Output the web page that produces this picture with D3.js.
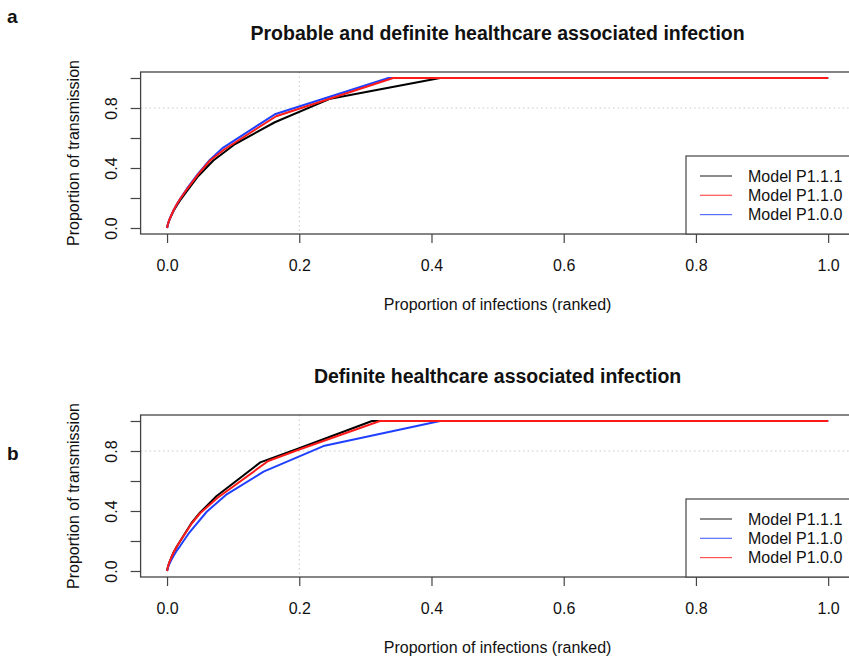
<!DOCTYPE html>
<html>
<head>
<meta charset="utf-8">
<script src="https://cdn.jsdelivr.net/npm/d3@7/dist/d3.min.js"></script>
<style>
  html, body { margin: 0; padding: 0; background: #fff; }
  svg { display: block; font-family: "Liberation Sans", Arial, sans-serif; }
</style>
</head>
<body>
<svg id="chart" width="849" height="660"></svg>
<script>
// Axis ticks
const xTicks = [0, 0.2, 0.4, 0.6, 0.8, 1.0];
const yTicks = [0, 0.2, 0.4, 0.6, 0.8, 1.0];
const yTickLabels = ["0.0", "", "0.4", "", "0.8", ""];
const xTickLabels = ["0.0", "0.2", "0.4", "0.6", "0.8", "1.0"];

// Panel a: probable and definite healthcare associated infection
const aP111 = [[0,0],[0.001,0.02],[0.003,0.048],[0.006,0.078],[0.01,0.115],[0.015,0.152],[0.02,0.185],[0.03,0.245],[0.047,0.345],[0.07,0.45],[0.103,0.56],[0.163,0.705],[0.247,0.862],[0.413,1.0],[1,1]];
const aP110 = [[0,0],[0.001,0.02],[0.003,0.05],[0.006,0.08],[0.01,0.12],[0.015,0.16],[0.02,0.195],[0.03,0.258],[0.047,0.358],[0.065,0.45],[0.087,0.525],[0.165,0.745],[0.342,1.0],[1,1]];
const aP100 = [[0,0],[0.001,0.02],[0.003,0.05],[0.006,0.08],[0.01,0.12],[0.015,0.16],[0.02,0.197],[0.03,0.262],[0.047,0.363],[0.065,0.455],[0.085,0.536],[0.163,0.758],[0.335,1.0],[1,1]];

// Panel b: definite healthcare associated infection
const bP111 = [[0,0],[0.001,0.022],[0.003,0.052],[0.006,0.085],[0.01,0.125],[0.015,0.165],[0.02,0.2],[0.037,0.32],[0.05,0.39],[0.075,0.5],[0.141,0.724],[0.2,0.818],[0.31,1.0],[1,1]];
const bP110 = [[0,0],[0.001,0.018],[0.003,0.042],[0.006,0.07],[0.01,0.102],[0.015,0.138],[0.02,0.168],[0.034,0.258],[0.06,0.395],[0.089,0.507],[0.146,0.662],[0.2365,0.833],[0.413,1.0],[1,1]];
const bP100 = [[0,0],[0.001,0.022],[0.003,0.052],[0.006,0.085],[0.01,0.125],[0.015,0.165],[0.02,0.2],[0.037,0.315],[0.05,0.385],[0.077,0.49],[0.153,0.733],[0.2,0.81],[0.322,1.0],[1,1]];

const seriesNames = ["Model P1.1.1", "Model P1.1.0", "Model P1.0.0"];
const BLACK = "#000000", RED = "#ff1a1a", BLUE = "#2040ff";

const panels = [
  { tag: "a", title: "Probable and definite healthcare associated infection",
    top: 72, bottom: 234, tagY: 16,
    series: [ {d: aP111, c: BLACK}, {d: aP100, c: BLUE}, {d: aP110, c: RED} ],
    legend: [ {n: seriesNames[0], c: BLACK}, {n: seriesNames[1], c: RED}, {n: seriesNames[2], c: BLUE} ] },
  { tag: "b", title: "Definite healthcare associated infection",
    top: 415, bottom: 577, tagY: 453,
    series: [ {d: bP111, c: BLACK}, {d: bP110, c: BLUE}, {d: bP100, c: RED} ],
    legend: [ {n: seriesNames[0], c: BLACK}, {n: seriesNames[1], c: BLUE}, {n: seriesNames[2], c: RED} ] }
];

const svg = d3.select("#chart");
const left = 140.6, right = 854.6;
const frameColor = "#444";

panels.forEach(p => {
  const x = d3.scaleLinear().domain([-0.04, 1.04]).range([left, right]);
  const y = d3.scaleLinear().domain([-0.04, 1.04]).range([p.bottom, p.top]);
  const g = svg.append("g");

  // reference grid at 0.2 / 0.8
  g.append("line").attr("x1", x(0.2)).attr("x2", x(0.2)).attr("y1", p.top).attr("y2", p.bottom)
    .attr("stroke", "#c8c8c8").attr("stroke-width", 1).attr("stroke-dasharray", "1.5,3");
  g.append("line").attr("x1", left).attr("x2", right).attr("y1", y(0.8)).attr("y2", y(0.8))
    .attr("stroke", "#c8c8c8").attr("stroke-width", 1).attr("stroke-dasharray", "1.5,3");

  // curves
  const line = d3.line().x(d => x(d[0])).y(d => y(d[1]));
  p.series.forEach(s => {
    g.append("path").attr("d", line(s.d)).attr("fill", "none")
      .attr("stroke", s.c).attr("stroke-width", 2).attr("stroke-linejoin", "round");
  });

  // plot frame
  g.append("rect").attr("x", left).attr("y", p.top).attr("width", right - left).attr("height", p.bottom - p.top)
    .attr("fill", "none").attr("stroke", frameColor).attr("stroke-width", 1.3);

  // x axis
  const xa = g.append("g").attr("transform", `translate(0,${p.bottom})`)
    .call(d3.axisBottom(x).tickValues(xTicks).tickSize(9).tickFormat((d, i) => xTickLabels[i]));
  xa.select(".domain").remove();
  xa.selectAll("line").attr("stroke", frameColor).attr("stroke-width", 1.2);
  xa.selectAll("text").attr("y", 31).attr("dy", "0.35em").attr("fill", "#111")
    .style("font-size", "16px").style("font-family", "Liberation Sans, Arial, sans-serif");

  // y axis
  const ya = g.append("g").attr("transform", `translate(${left},0)`)
    .call(d3.axisLeft(y).tickValues(yTicks).tickSize(10).tickFormat((d, i) => yTickLabels[i]));
  ya.select(".domain").remove();
  ya.selectAll("line").attr("stroke", frameColor).attr("stroke-width", 1.2);
  ya.selectAll("text").attr("x", 0).attr("y", -29).attr("dy", "0.35em")
    .attr("transform", "rotate(-90)").attr("text-anchor", "middle").attr("fill", "#111")
    .style("font-size", "16px").style("font-family", "Liberation Sans, Arial, sans-serif");

  // titles
  g.append("text").attr("x", (left + right) / 2).attr("y", p.top - 39).attr("dy", "0.35em")
    .attr("text-anchor", "middle").attr("font-weight", "bold").attr("font-size", 19.5)
    .attr("fill", "#111").text(p.title);
  g.append("text").attr("x", (left + right) / 2).attr("y", p.bottom + 70).attr("dy", "0.35em")
    .attr("text-anchor", "middle").attr("font-size", 16).attr("fill", "#111")
    .text("Proportion of infections (ranked)");
  g.append("text").attr("transform", `translate(73,${(p.top + p.bottom) / 2}) rotate(-90)`)
    .attr("dy", "0.35em").attr("text-anchor", "middle").attr("font-size", 16).attr("fill", "#111")
    .text("Proportion of transmission");

  // panel tag
  g.append("text").attr("x", 7).attr("y", p.tagY).attr("dy", "0.35em")
    .attr("font-weight", "bold").attr("font-size", 19).attr("fill", "#111").text(p.tag);

  // legend, bottom-right inside plot region
  const lgTop = p.bottom - 78, lgLeft = 686;
  g.append("rect").attr("x", lgLeft).attr("y", lgTop).attr("width", right - lgLeft).attr("height", p.bottom - lgTop)
    .attr("fill", "#fff").attr("stroke", frameColor).attr("stroke-width", 1.2);
  p.legend.forEach((e, i) => {
    const ry = lgTop + 20 + i * 19.3;
    g.append("line").attr("x1", 700).attr("x2", 732).attr("y1", ry).attr("y2", ry)
      .attr("stroke", e.c).attr("stroke-width", 1.2).attr("opacity", 0.75);
    g.append("text").attr("x", 748).attr("y", ry).attr("dy", "0.35em")
      .attr("font-size", 16).attr("fill", "#111").text(e.n);
  });
});
</script>
</body>
</html>
